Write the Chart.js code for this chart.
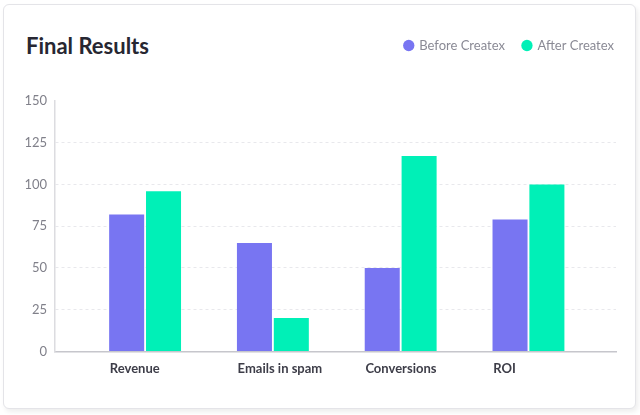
<!DOCTYPE html>
<html>
<head>
<meta charset="utf-8">
<script src="https://cdn.jsdelivr.net/npm/chart.js@4.4.1/dist/chart.umd.min.js"></script>
<style>
  html, body { margin: 0; padding: 0; background: #fff; }
  body { width: 640px; height: 415px; position: relative; overflow: hidden; font-family: Lato, sans-serif; }
  .card { position: absolute; left: 3px; top: 4px; width: 631px; height: 403px; border: 1px solid #e4e4e8; border-radius: 6px; box-shadow: 2px 3px 5px rgba(0,0,0,0.07); background: #fff; }
  h2 { position: absolute; left: 26px; top: 35px; margin: 0; font-size: 22px; line-height: 22px; font-weight: 700; color: #272732; }
  #wrap { position: absolute; left: 0; top: 0; width: 640px; height: 415px; }
</style>
</head>
<body>
<div class="card"></div>
<h2>Final Results</h2>
<div id="wrap"><canvas id="results"></canvas></div>
<script>
// chart data
var categories = ['Revenue', 'Emails in spam', 'Conversions', 'ROI'];
var beforeValues = [82, 65, 50, 79];
var afterValues = [96, 20, 117, 100];
var yTicks = [0, 25, 50, 75, 100, 125, 150];

// labels sit at the left edge of each group
var labelShift = -0.276;

function toPoints(values) {
  return values.map(function(v, i) {
    return { x: i, y: v };
  });
}

// push the plot down below the legend, and the legend over to the right
var legendSpacer = {
  id: 'legendSpacer',
  beforeInit: function(chart) {
    var fitLegend = chart.legend.fit;
    chart.legend.fit = function() {
      fitLegend.bind(chart.legend)();
      this.height += 39;
    };
  },
  afterLayout: function(chart) {
    chart.legend.left += 16;
    chart.legend.right += 16;
  }
};

Chart.defaults.font.family = 'Lato';

var ctx = document.getElementById('results').getContext('2d');
var myChart = new Chart(ctx, {
  type: 'bar',
  data: {
    datasets: [{
      label: 'Before Createx',
      data: toPoints(beforeValues),
      backgroundColor: '#7875f2',
      borderWidth: 0
    }, {
      label: 'After Createx',
      data: toPoints(afterValues),
      backgroundColor: '#00f0b7',
      borderWidth: 0
    }]
  },
  options: {
    responsive: true,
    maintainAspectRatio: false,
    animation: false,
    categoryPercentage: 0.577,
    barPercentage: 0.95,
    layout: { padding: { top: 21, right: 24, bottom: 28, left: 3 } },
    plugins: {
      tooltip: { enabled: false },
      legend: {
        position: 'top',
        align: 'end',
        labels: {
          usePointStyle: true,
          pointStyle: 'circle',
          boxWidth: 8,
          boxHeight: 8,
          padding: 18,
          color: '#8a8a95',
          font: { size: 13 }
        }
      }
    },
    scales: {
      x: {
        type: 'linear',
        offset: false,
        min: -0.705,
        max: 3.685,
        grid: { display: false, drawTicks: false, offset: false },
        border: { display: true, color: '#c6c6cc', width: 1.5 },
        afterBuildTicks: function(scale) {
          scale.ticks = categories.map(function(c, i) {
            return { value: i + labelShift };
          });
        },
        ticks: {
          autoSkip: false,
          maxRotation: 0,
          align: 'start',
          padding: 10,
          color: '#3d3d48',
          font: { size: 13, weight: 'bold' },
          callback: function(value, index) {
            return categories[index];
          }
        }
      },
      y: {
        min: 0,
        max: 150,
        afterFit: function(scale) {
          scale.width = 52;
        },
        afterBuildTicks: function(scale) {
          scale.ticks = yTicks.map(function(v) {
            return { value: v };
          });
        },
        grid: {
          drawTicks: false,
          color: function(c) {
            return (c.tick.value === 0 || c.tick.value === 150) ? 'rgba(0,0,0,0)' : '#e8e8ec';
          }
        },
        border: { display: true, color: '#dcdce0', width: 1.5, dash: [3, 3] },
        ticks: {
          padding: 8,
          color: '#80808a',
          font: { size: 13 }
        }
      }
    }
  },
  plugins: [legendSpacer]
});
</script>
</body>
</html>
